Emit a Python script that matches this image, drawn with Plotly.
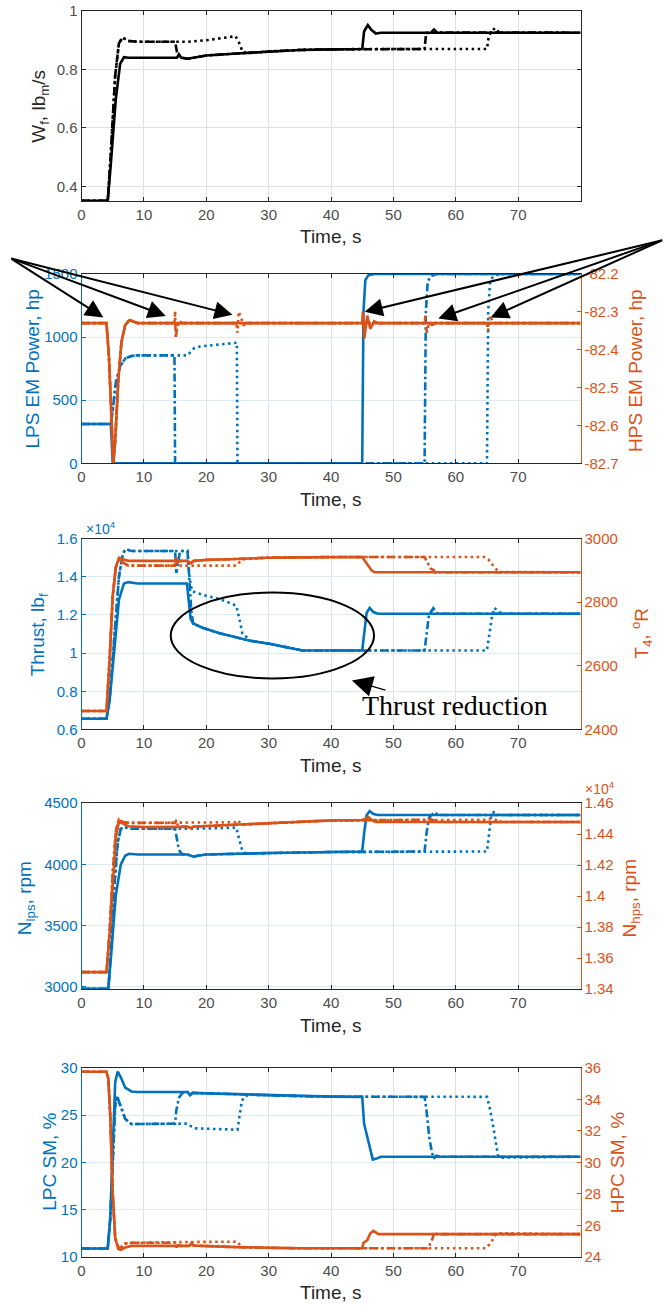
import plotly.graph_objects as go

# ---------------- data (time in s, value) ----------------
X_TICKS = [0, 10, 20, 30, 40, 50, 60, 70]

# Panel 1: fuel flow Wf, lbm/s
WF_SOLID = [(0, 0.35), (4.2, 0.35), (4.6, 0.45), (5.5, 0.70), (6.2, 0.82), (6.8, 0.842), (7.5, 0.84),
            (15.3, 0.84), (15.6, 0.852), (16.0, 0.84), (17.0, 0.837), (17.8, 0.84), (20, 0.848), (25, 0.855),
            (30, 0.862), (35, 0.867), (40, 0.869), (45.0, 0.870), (45.3, 0.93), (45.9, 0.952), (46.5, 0.935),
            (47.2, 0.923), (48, 0.926), (80, 0.926)]
WF_DASHDOT = [(0, 0.35), (4.2, 0.35), (4.6, 0.48), (5.4, 0.78), (6.0, 0.89), (6.6, 0.91), (7.4, 0.898),
              (9, 0.895), (15.0, 0.895), (15.3, 0.86), (15.8, 0.842), (17.0, 0.837), (17.8, 0.84), (20, 0.848),
              (25, 0.855), (30, 0.862), (35, 0.867), (40, 0.869), (45, 0.870), (55.0, 0.870), (55.25, 0.925),
              (56.0, 0.926), (56.5, 0.937), (57.0, 0.927), (80, 0.926)]
WF_DOT = [(0, 0.35), (4.2, 0.35), (4.6, 0.48), (5.4, 0.78), (6.0, 0.89), (6.6, 0.91), (7.4, 0.898), (9, 0.895),
          (17, 0.895), (20, 0.90), (24.7, 0.914), (25.3, 0.89), (25.8, 0.862), (26.5, 0.856), (30, 0.862),
          (35, 0.867), (40, 0.869), (45, 0.870), (65.0, 0.870), (65.3, 0.915), (65.7, 0.93), (66.3, 0.942),
          (66.8, 0.93), (67.5, 0.926), (80, 0.926)]

# Panel 2: LPS EM power (hp, left) and HPS EM power (hp, right)
LPS_SOLID = [(0, 312), (4.7, 312), (5.0, 0), (45.0, 0), (45.2, 1200), (45.5, 1450), (46, 1490), (47, 1500),
             (80, 1500)]
LPS_DASHDOT = [(0, 312), (4.7, 312), (5.0, 420), (5.5, 640), (6.2, 770), (7.0, 830), (8.0, 850), (9.0, 855),
               (14.9, 855), (15.0, 0), (55.0, 0), (55.2, 1200), (55.5, 1440), (56, 1480), (57, 1500), (80, 1500)]
LPS_DOT = [(0, 312), (4.7, 312), (5.0, 420), (5.5, 640), (6.2, 770), (7.0, 830), (8.0, 850), (9.0, 855),
           (17.0, 855), (18.0, 910), (19, 925), (24.9, 955), (25.0, 0), (65.0, 0), (65.2, 1200), (65.5, 1440),
           (66, 1480), (67, 1500), (80, 1500)]
HPS_SOLID = [(0, -82.33), (4.0, -82.33), (4.4, -82.42), (4.8, -82.6), (5.1, -82.70), (5.4, -82.64),
             (5.9, -82.48), (6.4, -82.38), (7.0, -82.335), (7.7, -82.322), (9, -82.33), (45.0, -82.33),
             (45.1, -82.30), (45.35, -82.37), (45.8, -82.31), (46.3, -82.345), (46.9, -82.325), (47.5, -82.33),
             (80, -82.33)]
HPS_DASHDOT = [(0, -82.33), (4.0, -82.33), (4.4, -82.42), (4.8, -82.6), (5.1, -82.70), (5.4, -82.64),
               (5.9, -82.48), (6.4, -82.38), (7.0, -82.335), (7.7, -82.322), (9, -82.33), (14.9, -82.33),
               (15.0, -82.30), (15.1, -82.37), (15.35, -82.34), (15.7, -82.325), (16.2, -82.33), (55.0, -82.33),
               (55.15, -82.31), (55.35, -82.355), (55.7, -82.33), (56.2, -82.335), (56.8, -82.33), (80, -82.33)]
HPS_DOT = [(0, -82.33), (4.0, -82.33), (4.4, -82.42), (4.8, -82.6), (5.1, -82.70), (5.4, -82.64),
           (5.9, -82.48), (6.4, -82.38), (7.0, -82.335), (7.7, -82.322), (9, -82.33), (24.8, -82.33),
           (25.0, -82.355), (25.2, -82.30), (25.5, -82.315), (26.0, -82.335), (26.6, -82.33), (65.0, -82.33),
           (65.2, -82.35), (65.5, -82.31), (66.0, -82.33), (80, -82.33)]

# Panel 3: thrust (lbf, left) and T4 (degR, right)
THRUST_SOLID = [(0, 6560), (4.0, 6560), (4.5, 7500), (5.3, 10500), (6.0, 12800), (6.8, 13650), (7.5, 13720),
                (9, 13650), (16.9, 13650), (17.1, 13000), (17.5, 11800), (17.9, 11550), (19.4, 11330),
                (22, 11050), (24.8, 10830), (27, 10650), (30.1, 10490), (33, 10300), (35.4, 10140),
                (45.0, 10140), (45.3, 11000), (45.7, 12100), (46.2, 12370), (46.8, 12150), (47.5, 12060),
                (80, 12060)]
THRUST_DASHDOT = [(0, 6560), (4.0, 6560), (4.5, 7600), (5.3, 11000), (6.0, 14000), (6.6, 15200), (7.1, 15450),
                  (8.0, 15350), (15.0, 15350), (15.2, 14200), (15.5, 14800), (15.8, 15350), (17.0, 15350),
                  (17.3, 14000), (17.6, 12200), (17.9, 11550), (19.4, 11330), (22, 11050), (24.8, 10830),
                  (27, 10650), (30.1, 10490), (33, 10300), (35.4, 10140), (55.0, 10140), (55.3, 11000),
                  (55.7, 12000), (56.4, 12350), (57.0, 12100), (57.5, 12060), (80, 12060)]
THRUST_DOT = [(0, 6560), (4.0, 6560), (4.5, 7600), (5.3, 11000), (6.0, 14000), (6.6, 15200), (7.1, 15450),
              (8.0, 15350), (17.0, 15350), (17.3, 14000), (17.7, 13250), (18.5, 13150), (20, 13000),
              (22.1, 12840), (24.0, 12600), (24.8, 12490), (25.3, 11800), (25.8, 11010), (26.5, 10830),
              (27, 10650), (30.1, 10490), (33, 10300), (35.4, 10140), (65.0, 10140), (65.4, 11000),
              (65.8, 11900), (66.2, 12370), (66.8, 12200), (67.5, 12060), (80, 12060)]
T4_SOLID = [(0, 2458), (4.0, 2458), (4.5, 2620), (5.0, 2820), (5.5, 2910), (6.0, 2940), (6.6, 2935),
            (7.5, 2930), (17.0, 2930), (17.4, 2922), (18, 2930), (20, 2933), (25, 2936), (30, 2940), (35, 2941),
            (40, 2942), (45.0, 2942), (45.5, 2928), (46.0, 2912), (46.5, 2900), (47.0, 2894), (80, 2894)]
T4_DASHDOT = [(0, 2458), (4.0, 2458), (4.5, 2620), (5.0, 2820), (5.5, 2910), (6.0, 2935), (6.6, 2925),
              (7.5, 2915), (15.0, 2915), (15.2, 2942), (15.4, 2925), (15.8, 2930), (17.0, 2930), (17.4, 2922),
              (18, 2930), (20, 2933), (25, 2936), (30, 2940), (35, 2941), (40, 2942), (55.0, 2942),
              (55.5, 2925), (56.0, 2905), (56.4, 2902), (56.8, 2892), (57.5, 2894), (80, 2894)]
T4_DOT = [(0, 2458), (4.0, 2458), (4.5, 2620), (5.0, 2820), (5.5, 2910), (6.0, 2935), (6.6, 2925),
          (7.5, 2915), (24.8, 2915), (25.3, 2925), (25.8, 2935), (30, 2940), (35, 2941), (40, 2942),
          (64.6, 2942), (65.2, 2935), (65.8, 2920), (66.4, 2905), (67.0, 2895), (80, 2894)]

# Panel 4: N_lps (rpm, left) and N_hps (rpm, right)
NLPS_SOLID = [(0, 2984), (4.3, 2984), (4.8, 3300), (5.5, 3750), (6.3, 4000), (7.0, 4070), (7.6, 4086),
              (9, 4080), (17.0, 4080), (17.5, 4070), (18.0, 4062), (18.6, 4070), (20, 4080), (30, 4092),
              (40, 4100), (45.0, 4105), (45.3, 4250), (45.7, 4400), (46.2, 4435), (46.8, 4410), (47.5, 4402),
              (80, 4402)]
NLPS_DASHDOT = [(0, 2984), (4.3, 2984), (4.8, 3350), (5.3, 3850), (5.8, 4180), (6.3, 4290), (6.8, 4305),
                (8, 4290), (15.0, 4290), (15.2, 4220), (15.5, 4150), (15.8, 4100), (16.2, 4082), (17.0, 4080),
                (17.5, 4070), (18.0, 4062), (18.6, 4070), (20, 4080), (30, 4092), (40, 4100), (55.0, 4105),
                (55.3, 4250), (55.7, 4380), (56.2, 4410), (56.6, 4425), (57.2, 4402), (80, 4402)]
NLPS_DOT = [(0, 2984), (4.3, 2984), (4.8, 3350), (5.3, 3850), (5.8, 4180), (6.3, 4290), (6.8, 4305),
            (8, 4290), (20, 4292), (24.8, 4300), (25.3, 4200), (25.8, 4110), (26.3, 4088), (30, 4092),
            (40, 4100), (65.0, 4105), (65.3, 4250), (65.7, 4400), (66.1, 4425), (66.5, 4410), (67, 4402),
            (80, 4402)]
NHPS_SOLID = [(0, 13510), (4.0, 13510), (4.5, 13750), (5.0, 14100), (5.5, 14380), (6.0, 14480), (6.5, 14470),
              (7.5, 14450), (10, 14445), (17, 14447), (17.5, 14440), (18, 14448), (20, 14452), (25, 14460),
              (30, 14470), (35, 14480), (40, 14488), (45, 14490), (45.5, 14500), (46.0, 14510), (46.6, 14488),
              (47.2, 14478), (80, 14478)]
NHPS_DASHDOT = [(0, 13510), (4.0, 13510), (4.5, 13780), (5.0, 14150), (5.5, 14420), (6.0, 14495),
                (6.5, 14480), (7.5, 14472), (15.0, 14472), (15.2, 14490), (15.4, 14460), (15.8, 14450),
                (17, 14447), (17.5, 14440), (18, 14448), (20, 14452), (25, 14460), (30, 14470), (35, 14480),
                (40, 14488), (55.0, 14492), (55.5, 14500), (56.0, 14495), (56.5, 14488), (57.2, 14478),
                (80, 14478)]
NHPS_DOT = [(0, 13510), (4.0, 13510), (4.5, 13780), (5.0, 14150), (5.5, 14420), (6.0, 14495), (6.5, 14480),
            (7.5, 14472), (24.6, 14476), (25.0, 14490), (25.5, 14470), (26, 14460), (30, 14470), (35, 14480),
            (40, 14488), (65.0, 14492), (65.6, 14500), (66.2, 14495), (66.8, 14482), (67.5, 14478), (80, 14478)]

# Panel 5: LPC SM (%, left) and HPC SM (%, right)
LPC_SOLID = [(0, 10.9), (4.2, 10.9), (4.6, 14), (5.0, 22), (5.4, 28.5), (5.8, 29.6), (6.3, 29.0), (7.0, 27.9),
             (8.0, 27.5), (9, 27.45), (17.0, 27.45), (17.4, 27.1), (17.8, 27.35), (20, 27.3), (25, 27.2),
             (30, 27.1), (35, 27.0), (40, 26.95), (45.0, 26.93), (45.3, 24.1), (45.7, 23.0), (46.2, 21.5),
             (46.7, 20.3), (47.3, 20.4), (48.0, 20.6), (80, 20.6)]
LPC_DASHDOT = [(0, 10.9), (4.2, 10.9), (4.6, 14), (5.0, 21), (5.4, 26.0), (5.7, 27.0), (6.2, 26.0),
               (7.0, 24.6), (8.0, 24.05), (15.0, 24.1), (15.2, 25.5), (15.6, 26.8), (16.1, 27.3), (16.6, 27.45),
               (17.0, 27.45), (17.4, 27.1), (17.8, 27.35), (20, 27.3), (25, 27.2), (30, 27.1), (35, 27.0),
               (40, 26.95), (55.0, 26.93), (55.3, 25.5), (55.8, 22.4), (56.2, 21.0), (56.5, 20.4),
               (56.9, 20.7), (57.5, 20.6), (80, 20.6)]
LPC_DOT = [(0, 10.9), (4.2, 10.9), (4.6, 14), (5.0, 21), (5.4, 26.0), (5.7, 27.0), (6.2, 26.0), (7.0, 24.6),
           (8.0, 24.05), (17.0, 24.1), (17.6, 23.8), (18.2, 23.6), (25.0, 23.45), (25.3, 25.0), (25.7, 26.5),
           (26.2, 27.0), (27, 27.15), (30, 27.1), (35, 27.0), (40, 26.95), (65.0, 26.93), (65.5, 25.6),
           (66.0, 23.8), (66.3, 22.4), (66.8, 20.6), (67.2, 20.5), (80, 20.6)]
HPC_SOLID = [(0, 35.75), (4.0, 35.75), (4.3, 35.3), (4.6, 33.0), (5.0, 28.0), (5.4, 25.2), (5.9, 24.5),
             (6.3, 24.45), (7.0, 24.6), (8, 24.7), (17.3, 24.7), (17.6, 24.85), (18, 24.72), (20, 24.68),
             (25, 24.62), (30, 24.58), (35, 24.55), (45.0, 24.55), (45.2, 24.9), (45.8, 25.05), (46.3, 25.5),
             (46.8, 25.65), (47.6, 25.45), (80, 25.45)]
HPC_DASHDOT = [(0, 35.75), (4.0, 35.75), (4.3, 35.3), (4.6, 33.0), (5.0, 28.0), (5.4, 25.2), (5.9, 24.6),
               (6.3, 24.6), (7.0, 24.85), (8, 24.9), (15.0, 24.9), (15.2, 24.6), (15.5, 24.75), (16, 24.7),
               (17.3, 24.7), (17.6, 24.85), (18, 24.72), (20, 24.68), (25, 24.62), (30, 24.58), (35, 24.55),
               (55.5, 24.55), (55.8, 24.75), (56.3, 25.2), (56.6, 25.6), (57.0, 25.45), (80, 25.45)]
HPC_DOT = [(0, 35.75), (4.0, 35.75), (4.3, 35.3), (4.6, 33.0), (5.0, 28.0), (5.4, 25.2), (5.9, 24.6),
           (6.3, 24.6), (7.0, 24.85), (8, 24.9), (17.5, 24.95), (25.0, 24.97), (25.4, 24.75), (26, 24.62),
           (30, 24.58), (35, 24.55), (64.8, 24.55), (65.4, 24.8), (65.9, 25.1), (66.4, 25.45), (66.8, 25.5),
           (80, 25.45)]

# tick values / labels
Y1_TICKS = [0.4, 0.6, 0.8, 1.0]
Y1_TEXT = ["0.4", "0.6", "0.8", "1"]
LPS_TICKS = [0, 500, 1000, 1500]
HPS_TICKS = [-82.7, -82.6, -82.5, -82.4, -82.3, -82.2]
HPS_TEXT = ["-82.7", "-82.6", "-82.5", "-82.4", "-82.3", "-82.2"]
THRUST_TICKS = [6000, 8000, 10000, 12000, 14000, 16000]
THRUST_TEXT = ["0.6", "0.8", "1", "1.2", "1.4", "1.6"]
T4_TICKS = [2400, 2600, 2800, 3000]
NLPS_TICKS = [3000, 3500, 4000, 4500]
NHPS_TICKS = [13400, 13600, 13800, 14000, 14200, 14400, 14600]
NHPS_TEXT = ["1.34", "1.36", "1.38", "1.4", "1.42", "1.44", "1.46"]
LPC_TICKS = [10, 15, 20, 25, 30]
HPC_TICKS = [24, 26, 28, 30, 32, 34, 36]

# ---------------- styling ----------------
W, H = 666, 1305
# the page is shown with an offset and vertical scaling: map target pixels -> layout pixels
SY, OFF = 1305 / 1321, 8


def lx(x):
    return x


def ly(y):
    return y / SY - OFF


XL, XR = lx(78), lx(580)
PANEL_REF = [(10, 200), (273, 462.7), (538, 729), (802.7, 989), (1067.7, 1257)]
PANEL_PX = [(ly(a), ly(b)) for a, b in PANEL_REF]
BLUE = "#0072BD"
ORANGE = "#D95319"
AXC = "#262626"
TICKC = "#4d4d4d"
GRID_GRAY = "#e0e0e0"
GRID_BLUE = "#dbeaf5"
LW = 2.6
DASH = {"solid": "solid", "dashdot": "8px,3px,2.5px,3px", "dot": "2.5px,3.5px"}
TICKFONT = 15
TITLEFONT = 19
FONT = "Arial"


def py(p):
    return 1 - p / H


fig = go.Figure()


def add(series, color, style, xa, ya):
    fig.add_trace(go.Scatter(x=[p[0] for p in series], y=[p[1] for p in series], mode="lines",
                             line=dict(color=color, width=LW, dash=DASH[style]),
                             xaxis=xa, yaxis=ya, showlegend=False, hoverinfo="skip"))


# panel 1
for s, st in [(WF_SOLID, "solid"), (WF_DASHDOT, "dashdot"), (WF_DOT, "dot")]:
    add(s, "#000000", st, "x", "y")

dual = [
    ("x2", "y2", "y3", [LPS_SOLID, LPS_DASHDOT, LPS_DOT], [HPS_SOLID, HPS_DASHDOT, HPS_DOT]),
    ("x3", "y4", "y5", [THRUST_SOLID, THRUST_DASHDOT, THRUST_DOT], [T4_SOLID, T4_DASHDOT, T4_DOT]),
    ("x4", "y6", "y7", [NLPS_SOLID, NLPS_DASHDOT, NLPS_DOT], [NHPS_SOLID, NHPS_DASHDOT, NHPS_DOT]),
    ("x5", "y8", "y9", [LPC_SOLID, LPC_DASHDOT, LPC_DOT], [HPC_SOLID, HPC_DASHDOT, HPC_DOT]),
]
for xa, yl, yr, lefts, rights in dual:
    for s, st in zip(lefts, ["solid", "dashdot", "dot"]):
        add(s, BLUE, st, xa, yl)
    for s, st in zip(rights, ["solid", "dashdot", "dot"]):
        add(s, ORANGE, st, xa, yr)

layout = dict(width=W, height=H, margin=dict(l=0, r=0, t=0, b=0), paper_bgcolor="white",
              plot_bgcolor="white", showlegend=False, font=dict(family=FONT, color=AXC))


def xaxis(i, anchor):
    return dict(domain=[XL / W, XR / W], range=[0, 80], tickvals=X_TICKS, anchor=anchor,
                showline=True, linecolor=AXC, linewidth=1, mirror="ticks", ticks="inside", ticklen=4,
                tickcolor=AXC, showgrid=True, gridcolor=GRID_GRAY, gridwidth=1, zeroline=False,
                tickfont=dict(family=FONT, size=TICKFONT, color=TICKC))


def yaxis(i, rng, tv, tt, color, anchor, grid, side="left", overlay=None, mirror=False):
    top, bot = PANEL_PX[i]
    d = dict(range=rng, tickvals=tv, ticktext=tt, anchor=anchor, side=side, showline=True,
             linecolor=color, linewidth=1, ticks="inside", ticklen=4, tickcolor=color, zeroline=False,
             showgrid=grid is not None, gridcolor=grid or GRID_GRAY, gridwidth=1,
             tickfont=dict(family=FONT, size=TICKFONT, color=color), mirror="ticks" if mirror else False)
    if overlay:
        d["overlaying"] = overlay
    else:
        d["domain"] = [py(bot), py(top)]
    return d


layout["xaxis"] = xaxis(0, "y")
layout["yaxis"] = yaxis(0, [0.35, 1.0], Y1_TICKS, Y1_TEXT, AXC, "x", GRID_GRAY, mirror=True)
layout["yaxis"]["tickfont"]["color"] = TICKC
specs = [
    (1, [0, 1500], LPS_TICKS, [str(v) for v in LPS_TICKS], [-82.7, -82.2], HPS_TICKS, HPS_TEXT),
    (2, [6000, 16000], THRUST_TICKS, THRUST_TEXT, [2400, 3000], T4_TICKS, [str(v) for v in T4_TICKS]),
    (3, [2981, 4500], NLPS_TICKS, [str(v) for v in NLPS_TICKS], [13400, 14600], NHPS_TICKS, NHPS_TEXT),
    (4, [10, 30], LPC_TICKS, [str(v) for v in LPC_TICKS], [24, 36], HPC_TICKS, [str(v) for v in HPC_TICKS]),
]
for i, lr, lt, ltt, rr, rt, rtt in specs:
    xn = f"x{i + 1}"
    yl = 2 * i
    yr = 2 * i + 1
    layout[f"xaxis{i + 1}"] = xaxis(i, f"y{yl}")
    layout[f"yaxis{yl}"] = yaxis(i, lr, lt, ltt, BLUE, xn, GRID_BLUE)
    layout[f"yaxis{yr}"] = yaxis(i, rr, rt, rtt, ORANGE, xn, None, side="right", overlay=f"y{yl}")

fig.update_layout(**layout)

# ---------------- text annotations (positions given in target pixels) ----------------
ann = []


def label(x, y, text, color=AXC, size=TITLEFONT, angle=0, family=FONT, xanchor="center"):
    ann.append(dict(x=lx(x) / W, y=py(ly(y)), xref="paper", yref="paper", text=text, showarrow=False,
                    textangle=angle, font=dict(family=family, size=size, color=color),
                    xanchor=xanchor, yanchor="middle"))


for top, bot in PANEL_REF:
    label(329, bot + 36, "Time, s")

label(36, 105, "W<sub>f</sub>, lb<sub>m</sub>/s", angle=-90)
label(29, 368, "LPS EM Power, hp", BLUE, angle=-90)
label(636, 370, "HPS EM Power, hp", ORANGE, angle=-90)
label(35, 634, "Thrust, lb<sub>f</sub>", BLUE, angle=-90)
label(641, 633, "T<sub>4</sub>, <sup>o</sup>R", ORANGE, angle=-90)
label(22, 898, "N<sub>lps</sub>, rpm", BLUE, angle=-90)
label(631, 898, "N<sub>hps</sub>, rpm", ORANGE, angle=-90)
label(45, 1162, "LPC SM, %", BLUE, angle=-90)
label(617, 1163, "HPC SM, %", ORANGE, angle=-90)
label(80, 527, "×10<sup>4</sup>", BLUE, size=14, xanchor="left")
label(583, 788, "×10<sup>4</sup>", ORANGE, size=14, xanchor="left")
label(454, 705, "Thrust reduction", "#000000", size=28, family="Liberation Serif")

# arrows in panel 2: tips in data coords (time, HPS power), tails in target pixels
LEFT_TAIL = (7, 258)
RIGHT_TAIL = (662, 240)
ARROW_TIPS = [(3.5, -82.315, LEFT_TAIL), (13.5, -82.311, LEFT_TAIL), (24.2, -82.308, LEFT_TAIL),
              (45.4, -82.30, RIGHT_TAIL), (57.2, -82.318, RIGHT_TAIL), (65.6, -82.315, RIGHT_TAIL)]
p2top, p2bot = PANEL_PX[1]
for t, v, tail in ARROW_TIPS:
    tx = XL + t / 80 * (XR - XL)
    ty = p2top + (-82.2 - v) / 0.5 * (p2bot - p2top)
    ann.append(dict(x=t, y=v, xref="x2", yref="y3", text="", showarrow=True, arrowhead=2,
                    arrowsize=1.8, arrowwidth=2, arrowcolor="#000000", ax=lx(tail[0]) - tx,
                    ay=ly(tail[1]) - ty, standoff=0))

# thrust-reduction arrow
ann.append(dict(x=lx(350) / W, y=py(ly(680)), xref="paper", yref="paper", text="", showarrow=True,
                arrowhead=2, arrowsize=3.2, arrowwidth=1.3, arrowcolor="#000000",
                ax=lx(385) - lx(350), ay=ly(690) - ly(680), standoff=0))

fig.update_layout(annotations=ann)

# ellipse around the thrust reduction region (data coords of panel 3)
fig.add_shape(type="circle", xref="x3", yref="y4", x0=14.3, x1=46.9, y0=8670, y1=13173,
              line=dict(color="#000000", width=2))

fig.write_html("out.html")
